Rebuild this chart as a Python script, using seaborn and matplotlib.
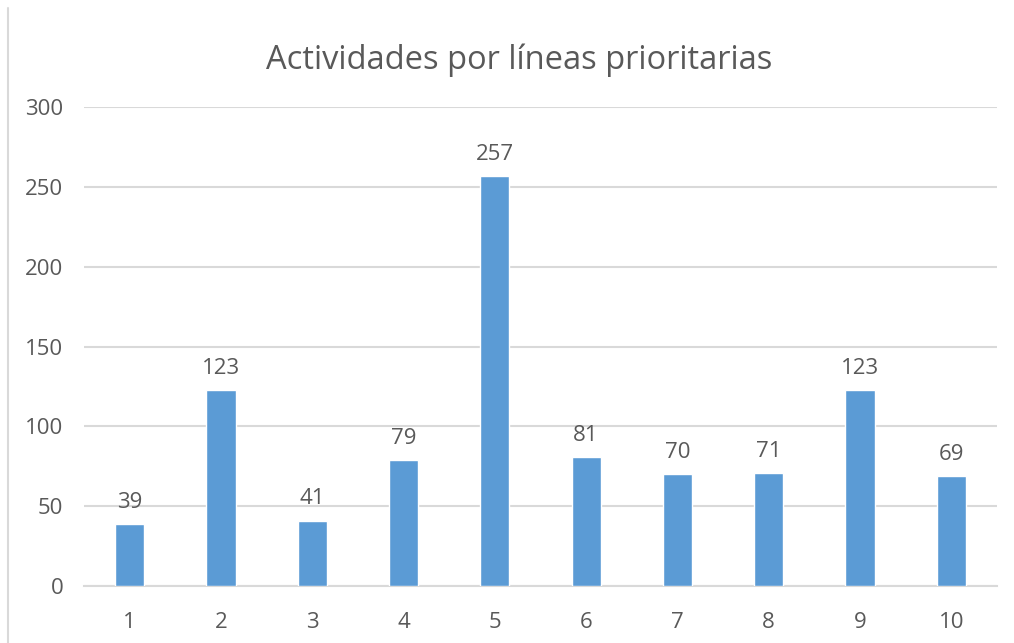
import matplotlib
matplotlib.use("Agg")
import matplotlib.pyplot as plt
from matplotlib.lines import Line2D
import seaborn as sns
import pandas as pd

lineas = ["1", "2", "3", "4", "5", "6", "7", "8", "9", "10"]
actividades = [39, 123, 41, 79, 257, 81, 70, 71, 123, 69]
y_ticks = [0, 50, 100, 150, 200, 250, 300]

sns.set_theme(style="white")
plt.rcParams["font.family"] = ["Open Sans", "DejaVu Sans"]

text_color = "#595959"
bar_color = "#5B9BD5"
grid_color = "#D9D9D9"

df = pd.DataFrame({"linea": lineas, "actividades": actividades})

fig = plt.figure(figsize=(10.14, 6.43), dpi=100)
ax = fig.add_axes([0.0828, 0.0886, 0.9004, 0.745])

sns.barplot(data=df, x="linea", y="actividades", order=lineas,
            color=bar_color, saturation=1, width=0.32, ax=ax, zorder=3)

ax.set_ylim(0, 300)
ax.set_yticks(y_ticks)
ax.set_xlim(-0.5, len(lineas) - 0.5)
ax.yaxis.grid(True, color=grid_color, linewidth=1.5, zorder=0)
ax.set_axisbelow(True)
for side in ["top", "right", "left"]:
    ax.spines[side].set_visible(False)
ax.spines["bottom"].set_color(grid_color)
ax.spines["bottom"].set_linewidth(1.5)
ax.spines["bottom"].set_zorder(0)

ax.set_xlabel("")
ax.set_ylabel("")
ax.tick_params(axis="both", length=0, labelsize=16, colors=text_color)
ax.tick_params(axis="y", pad=15)
ax.tick_params(axis="x", pad=19)

for container in ax.containers:
    ax.bar_label(container, labels=[str(v) for v in actividades],
                 padding=8, fontsize=16, color=text_color)

fig.text(0.512, 0.906, "Actividades por líneas prioritarias",
         ha="center", va="center", fontsize=23.5, color=text_color)

fig.add_artist(Line2D([8 / 1014, 8 / 1014], [0, 1 - 8 / 643],
                      transform=fig.transFigure, color="#D9D9D9", linewidth=1.5))

fig.savefig("out.png", dpi=100, facecolor="white")
